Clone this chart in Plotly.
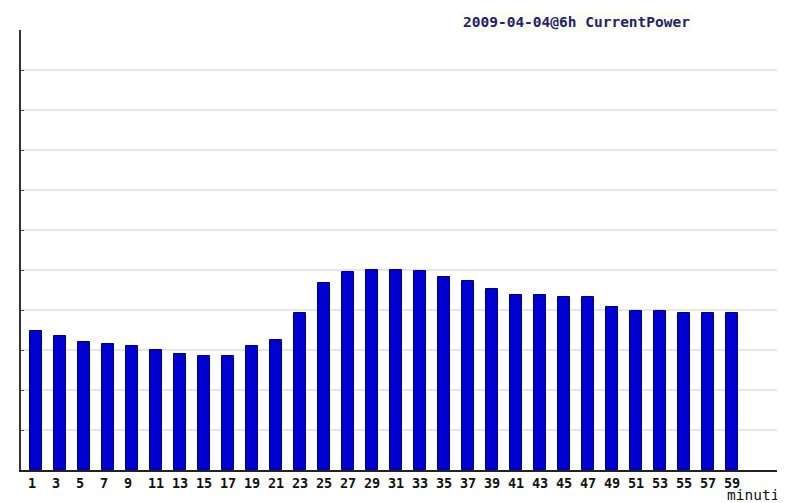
import plotly.graph_objects as go

minutes = list(range(1, 60, 2))
tick_labels = [f"{m}\u00a0" if m < 10 else str(m) for m in minutes]
power = [3.47, 3.36, 3.21, 3.16, 3.11, 3.01, 2.91, 2.86, 2.86, 3.11,
         3.26, 3.92, 4.67, 4.96, 5.01, 5.01, 4.97, 4.82, 4.72, 4.52,
         4.37, 4.37, 4.32, 4.32, 4.07, 3.97, 3.97, 3.92, 3.92, 3.92]
title_text = "2009-04-04@6h CurrentPower"
x_title = "minuti"

# the page body has an 8px margin, so the figure is drawn 8px smaller
fig = go.Figure()
fig.add_trace(go.Bar(
    x=minutes, y=power, width=1,
    marker=dict(color="#0000D0", line=dict(color="#00008B", width=1)),
    hoverinfo="skip",
))

fig.update_layout(
    width=777, height=495,
    margin=dict(l=13, r=5, t=22, b=33, autoexpand=False),
    paper_bgcolor="white", plot_bgcolor="white",
    showlegend=False,
    bargap=0,
    xaxis=dict(
        range=[-0.25, 63],
        tickmode="array", tickvals=minutes, ticktext=tick_labels,
        tickfont=dict(family="DejaVu Sans Mono", size=13.5, color="#111", weight="bold"),
        showgrid=False, zeroline=False,
        showline=True, linecolor="#222", linewidth=2,
        ticks="", ticklen=0,
    ),
    yaxis=dict(
        range=[0, 11], dtick=1, tick0=0,
        showticklabels=False,
        showgrid=True, gridcolor="#e6e6e6", gridwidth=1.5,
        zeroline=False,
        showline=True, linecolor="#333", linewidth=2,
        ticks="inside", ticklen=3, tickcolor="#555",
    ),
    annotations=[
        dict(text=title_text, xref="paper", yref="paper",
             x=(461 - 21) / 759, y=(470 - 22) / 440,
             xanchor="left", yanchor="middle", showarrow=False,
             bgcolor="#fbfbf4",
             font=dict(family="DejaVu Sans Mono", size=14.5, color="#22226a", weight="bold")),
        dict(text=x_title, xref="paper", yref="paper",
             x=(725 - 21) / 759, y=(470 - 495) / 440,
             xanchor="left", yanchor="middle", showarrow=False,
             font=dict(family="DejaVu Sans Mono", size=14.5, color="#111")),
    ],
)

fig.write_html("out.html")
